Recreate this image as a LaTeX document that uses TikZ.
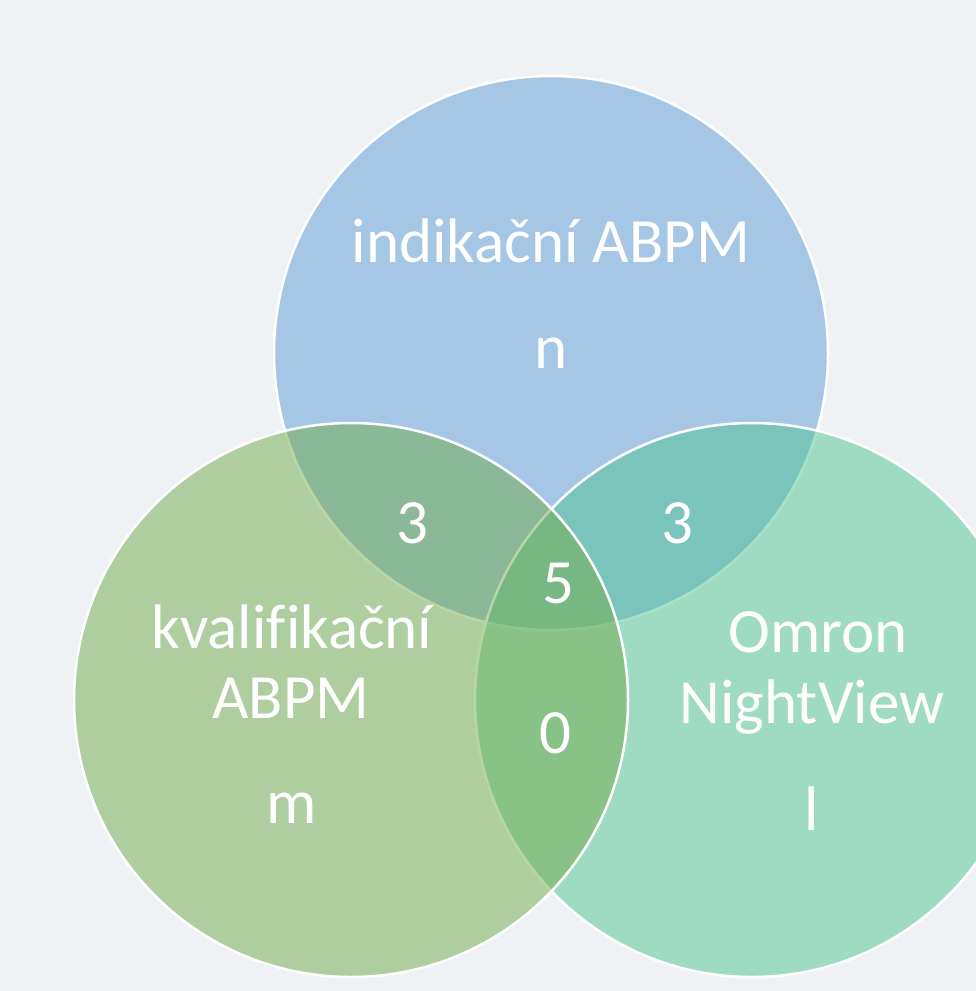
\documentclass[tikz,border=0pt]{standalone}
\usepackage{fontspec}
\setmainfont{Carlito}[Ligatures=NoCommon]
\definecolor{bg}{RGB}{238,242,245}
\definecolor{ctop}{RGB}{166,198,229}
\definecolor{cright}{RGB}{82,196,147}
\definecolor{cleft}{RGB}{114,172,75}
\begin{document}
\begin{tikzpicture}[x=1pt,y=-1pt,
  venn/.style={circle, draw=white, line width=2.5pt, minimum size=554pt, inner sep=0pt, outer sep=0pt},
  lbl/.style={text=white, font=\fontsize{63}{74}\selectfont, anchor=base, inner sep=0pt}]
\useasboundingbox (0,0) rectangle (976,991);
\clip (0,0) rectangle (976,991);
\fill[bg] (0,0) rectangle (976,991);
\node[venn, fill=ctop] (top) at (551,353) {};
\node[venn, fill=cright, fill opacity=0.5, draw opacity=1] (right) at (752,700) {};
\node[venn, fill=cleft, fill opacity=0.5, draw opacity=1] (left) at (351,700) {};
% labels
\node[lbl] (t1) at (551,262) {indikační ABPM};
\node[lbl] (t2) at (551,368) {n};
\node[lbl] (l1) at (292,648) {kvalifikační};
\node[lbl] (l2) at (291,718) {ABPM};
\node[lbl] (l3) at (292,823) {m};
\node[lbl] (r1) at (818,652) {Omron};
\node[lbl] (r2) at (812,723) {NightView};
\node[lbl] (r3) at (812,830) {l};
\node[lbl] (n1) at (412,543) {3};
\node[lbl] (n2) at (677,543) {3};
\node[lbl] (n3) at (558,603) {5};
\node[lbl] (n4) at (555,753) {0};
\end{tikzpicture}
\end{document}
